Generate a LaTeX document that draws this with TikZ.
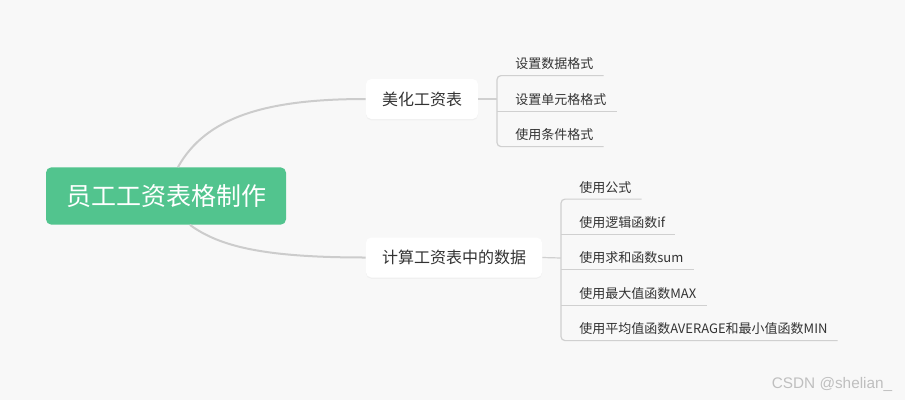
\documentclass[tikz,border=0pt]{standalone}
\usepackage{fontspec}
\newfontfamily\cjk{Noto Sans CJK SC}
\newfontfamily\marksans{Liberation Sans}
\usetikzlibrary{shadows}

\definecolor{mapbg}{HTML}{F8F8F8}
\definecolor{rootgreen}{HTML}{52C48E}
\definecolor{limbgray}{HTML}{CCCCCC}
\definecolor{twiggray}{HTML}{D0D0D0}
\definecolor{ink}{HTML}{333333}

\begin{document}
\begin{tikzpicture}[x=0.75pt,y=-0.75pt,
   root/.style={fill=rootgreen, rounded corners=4pt, minimum width=180pt,
      minimum height=43pt, text=white, font=\cjk\fontsize{18.75pt}{22pt}\selectfont},
   topic/.style={fill=white, rounded corners=4pt, minimum height=30pt, inner xsep=12pt,
      text=ink, font=\cjk\fontsize{12pt}{14pt}\selectfont,
      drop shadow={opacity=0.06, shadow xshift=0pt, shadow yshift=-1pt}},
   leaf/.style={anchor=west, inner sep=0pt, minimum height=17pt, text=ink,
      font=\cjk\fontsize{9.75pt}{12pt}\selectfont},
   limb/.style={draw=limbgray, line width=1.5pt},
   twig/.style={draw=twiggray, line width=0.9pt}]

   \fill[mapbg] (0,0) rectangle (905,400);

   \node[root] (root) at (166,196) {员工工资表格制作};
   \node[topic] (beauty) at (422,99) {美化工资表};
   \node[topic] (calc) at (454,257.5) {计算工资表中的数据};

   \node[leaf] (b1) at (515,64) {设置数据格式};
   \node[leaf] (b2) at (515,99.5) {设置单元格格式};
   \node[leaf] (b3) at (515,135) {使用条件格式};

   \node[leaf] (c1) at (579,187.5) {使用公式};
   \node[leaf] (c2) at (579,222.5) {使用逻辑函数if};
   \node[leaf] (c3) at (579,258) {使用求和函数sum};
   \node[leaf] (c4) at (579,293.5) {使用最大值函数MAX};
   \node[leaf] (c5) at (579,329) {使用平均值函数AVERAGE和最小值函数MIN};

   % where the branches meet their brackets
   \coordinate (bv) at (497,99);
   \coordinate (cv) at (561,258);

   \draw[limb] ([xshift=9pt]root.north) .. controls +(28,-50) and +(-100,0) .. (beauty.west);
   \draw[limb] ([xshift=18pt]root.south) .. controls +(30,22) and +(-100,0) .. (calc.west);

   \draw[twig] (beauty.east) -- (bv);
   \draw[twig, rounded corners=3pt] ([xshift=7.5pt]b1.south east) -- (b1.south -| bv)
      -- (b3.south -| bv) -- ([xshift=7.5pt]b3.south east);
   \draw[twig] (b2.south -| bv) -- ([xshift=7.5pt]b2.south east);

   \draw[twig] (calc.east) -- (cv);
   \draw[twig, rounded corners=3pt] ([xshift=7.5pt]c1.south east) -- (c1.south -| cv)
      -- (c5.south -| cv) -- ([xshift=7.5pt]c5.south east);
   \draw[twig] (c2.south -| cv) -- ([xshift=7.5pt]c2.south east);
   \draw[twig] (c3.south -| cv) -- ([xshift=7.5pt]c3.south east);
   \draw[twig] (c4.south -| cv) -- ([xshift=7.5pt]c4.south east);

   \node[text=black!25, font=\marksans\fontsize{11.5pt}{13pt}\selectfont] (mark) at (832,384) {CSDN @shelian\_};
\end{tikzpicture}
\end{document}
